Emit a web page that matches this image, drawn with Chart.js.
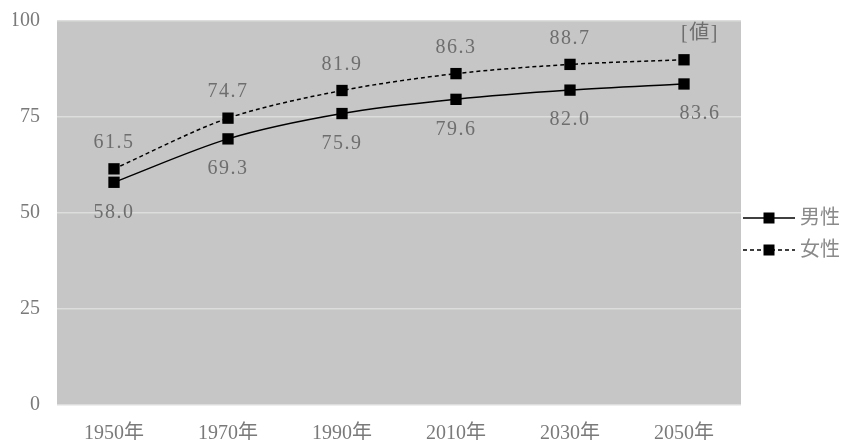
<!doctype html>
<html lang="ja">
<head>
  <meta charset="utf-8">
  <title>平均寿命の推移</title>
  <style>
    * { margin: 0; padding: 0; }
    body { background: #fff; }
    .chartBox { width: 843px; height: 440px; position: relative; }
  </style>
</head>
<body>
<div class="chartBox">
  <canvas id="myChart"></canvas>
</div>

<script src="https://cdn.jsdelivr.net/npm/chart.js"></script>
<script>
  // data
  const years = ['1950年', '1970年', '1990年', '2010年', '2030年', '2050年'];
  const maleData = [58.0, 69.3, 75.9, 79.6, 82.0, 83.6];
  const femaleData = [61.5, 74.7, 81.9, 86.3, 88.7, 89.9];
  const maleLabels = ['58.0', '69.3', '75.9', '79.6', '82.0', '83.6'];
  const femaleLabels = ['61.5', '74.7', '81.9', '86.3', '88.7', '[値]'];
  const yMin = 0, yMax = 100, yStep = 25;

  const serif = "'Liberation Serif', 'Noto Sans CJK JP', serif";
  const textGray = '#7a7a7a';

  // gray plot background
  const plotBg = {
    id: 'plotBg',
    beforeDraw(chart) {
      const {ctx, chartArea: a} = chart;
      ctx.save();
      ctx.fillStyle = '#c5c6c5';
      ctx.fillRect(a.left, a.top, a.right - a.left, a.bottom - a.top);
      ctx.restore();
    }
  };

  // value labels (female above, male below)
  const valueLabels = {
    id: 'valueLabels',
    afterDatasetsDraw(chart) {
      const ctx = chart.ctx;
      ctx.save();
      ctx.font = '20px ' + serif;
      ctx.fillStyle = '#6e6e6e';
      ctx.textAlign = 'center';
      ctx.textBaseline = 'middle';
      ctx.letterSpacing = '1.5px';
      chart.data.datasets.forEach((ds, i) => {
        const meta = chart.getDatasetMeta(i);
        const last = meta.data.length - 1;
        meta.data.forEach((pt, j) => {
          const dy = ds.labelPos === 'above' ? -26 : 30;
          // the last labels sit a bit to the right, like the original
          const dx = j === last ? 16 : 0;
          ctx.fillText(ds.valueText[j], pt.x + dx, pt.y + dy);
        });
      });
      ctx.restore();
    }
  };

  // legend on the right: line + square marker + name
  const sideLegend = {
    id: 'sideLegend',
    afterDraw(chart) {
      const {ctx, chartArea: a} = chart;
      const x0 = a.right + 2;
      const yMid = (a.top + a.bottom) / 2 + 21;
      ctx.save();
      chart.data.datasets.forEach((ds, i) => {
        const y = yMid + (i === 0 ? -16 : 16);
        ctx.strokeStyle = ds.borderColor;
        ctx.lineWidth = ds.borderWidth;
        ctx.setLineDash(ds.borderDash || []);
        ctx.beginPath();
        ctx.moveTo(x0, y);
        ctx.lineTo(x0 + 52, y);
        ctx.stroke();
        ctx.setLineDash([]);
        ctx.fillStyle = '#000';
        ctx.fillRect(x0 + 26 - 5.5, y - 5.5, 11, 11);
        ctx.font = '20px ' + serif;
        ctx.fillStyle = '#8a8a8a';
        ctx.textAlign = 'left';
        ctx.textBaseline = 'middle';
        ctx.fillText(ds.label, x0 + 57, y + 1);
      });
      ctx.restore();
    }
  };

  const data = {
    labels: years,
    datasets: [
      {
        label: '男性',
        data: maleData,
        valueText: maleLabels,
        labelPos: 'below',
        borderColor: '#000',
        borderWidth: 1.5,
        backgroundColor: '#000',
        pointStyle: 'rect',
        pointRadius: 8,
        pointBorderWidth: 0,
        tension: 0.3
      },
      {
        label: '女性',
        data: femaleData,
        valueText: femaleLabels,
        labelPos: 'above',
        borderColor: '#000',
        borderWidth: 1.5,
        borderDash: [4, 3],
        backgroundColor: '#000',
        pointStyle: 'rect',
        pointRadius: 8,
        pointBorderWidth: 0,
        tension: 0.3
      }
    ]
  };

  const config = {
    type: 'line',
    data,
    options: {
      responsive: true,
      maintainAspectRatio: false,
      animation: false,
      layout: { padding: { left: 13, top: 21, right: 102, bottom: 0 } },
      scales: {
        x: {
          offset: true,
          grid: { display: false, drawTicks: false },
          border: { display: false },
          ticks: { color: textGray, font: { family: serif, size: 20 }, padding: 17 },
          afterFit(scale) {
            scale.height = 35;
            scale.paddingLeft = 0;
            scale.paddingRight = 0;
          }
        },
        y: {
          min: yMin,
          max: yMax,
          grid: { color: '#dcdddc', lineWidth: 1.5, drawTicks: false },
          border: { display: false },
          ticks: { stepSize: yStep, color: textGray, font: { family: serif, size: 20 }, padding: 17 },
          afterFit(scale) {
            scale.width = 44;
            scale.paddingTop = 0;
            scale.paddingBottom = 0;
          }
        }
      },
      plugins: {
        legend: { display: false },
        tooltip: { enabled: false }
      }
    },
    plugins: [plotBg, valueLabels, sideLegend]
  };

  const myChart = new Chart(document.getElementById('myChart'), config);
</script>
</body>
</html>
